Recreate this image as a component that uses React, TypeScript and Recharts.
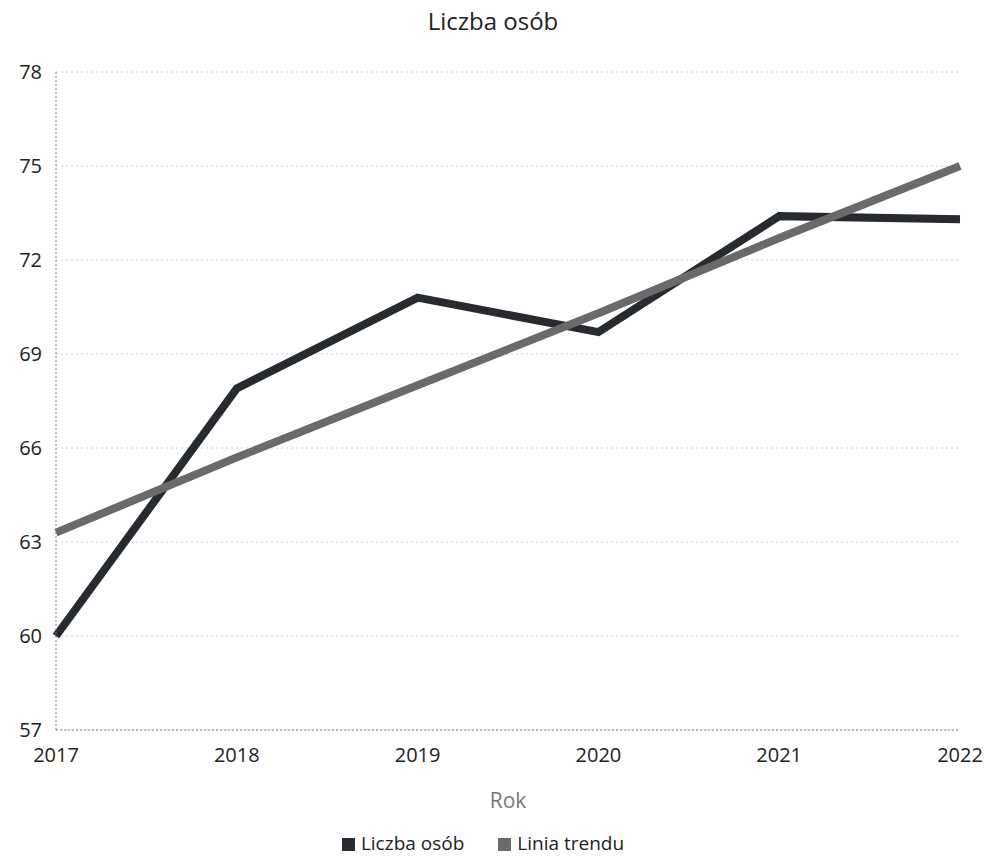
import { LineChart, Line, XAxis, YAxis, CartesianGrid, Legend } from "recharts";

const years = ["2017", "2018", "2019", "2020", "2021", "2022"];
const liczbaOsob = [60.0, 67.9, 70.8, 69.7, 73.4, 73.3];
const liniaTrendu = [63.3, 65.7, 68.0, 70.3, 72.7, 75.0];
const yTicks = [57, 60, 63, 66, 69, 72, 75, 78];

const data = years.map((year, i) => ({
  year,
  liczba: liczbaOsob[i],
  trend: liniaTrendu[i],
}));

const font = "'Open Sans', 'Noto Sans', sans-serif";

export default function App() {
  return (
    <div style={{ position: "absolute", left: 0, top: 0, width: 986, height: 862, background: "#fff", fontFamily: font }}>
      <div
        style={{
          position: "absolute",
          top: 4,
          left: 0,
          width: 986,
          textAlign: "center",
          fontSize: 24,
          color: "#222",
        }}
      >
        Liczba osób
      </div>
      <LineChart
        width={986}
        height={862}
        data={data}
        margin={{ top: 72, right: 26, left: 0, bottom: 6 }}
      >
        <CartesianGrid vertical={false} stroke="#d0d0d0" strokeDasharray="2 3" />
        <XAxis
          dataKey="year"
          stroke="#888"
          strokeDasharray="2 2"
          tickLine={false}
          tick={{ fill: "#222", fontSize: 20, fontFamily: font }}
          tickMargin={12}
          height={100}
          label={{ value: "Rok", position: "insideBottom", offset: 22, fill: "#777", fontSize: 21, fontFamily: font }}
        />
        <YAxis
          domain={[57, 78]}
          ticks={yTicks}
          width={56}
          stroke="#888"
          strokeDasharray="2 2"
          tickLine={false}
          tickMargin={8}
          tick={{ fill: "#222", fontSize: 20, fontFamily: font }}
        />
        <Legend
          verticalAlign="bottom"
          align="center"
          iconType="square"
          iconSize={13}
          wrapperStyle={{ fontSize: 19, fontFamily: font, color: "#222", paddingLeft: 20 }}
          formatter={(value) => (
            <span style={{ color: "#222", paddingLeft: 2, paddingRight: 24 }}>{value}</span>
          )}
        />
        <Line
          type="linear"
          dataKey="liczba"
          name="Liczba osób"
          stroke="#272b2f"
          strokeWidth={8}
          dot={false}
          isAnimationActive={false}
        />
        <Line
          type="linear"
          dataKey="trend"
          name="Linia trendu"
          stroke="#6a6a6a"
          strokeWidth={8}
          dot={false}
          isAnimationActive={false}
        />
      </LineChart>
    </div>
  );
}
